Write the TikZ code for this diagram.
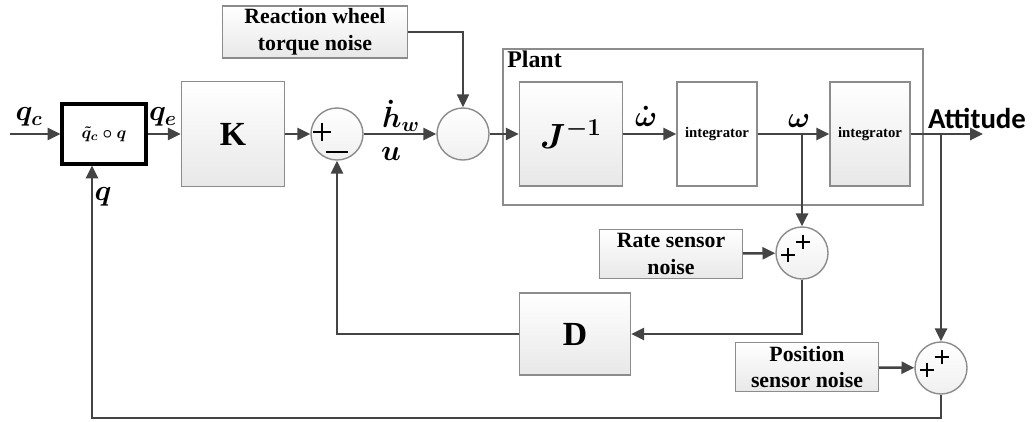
\documentclass[tikz,border=0pt]{standalone}
\usepackage{fontspec}
\setmainfont{Liberation Serif}
\newfontfamily\attfont{Carlito}
\usetikzlibrary{arrows.meta}

\definecolor{lncol}{RGB}{68,68,68}
\definecolor{bdcol}{RGB}{140,140,140}

\begin{document}
\begin{tikzpicture}[
  x=0.025cm, y=-0.025cm,
  blk/.style={rectangle, draw=bdcol, line width=1pt, top color=white, bottom color=black!9,
              inner sep=2pt, align=center, font=\bfseries},
  noise/.style={blk, minimum width=3.575cm, minimum height=1.225cm,
                font=\bfseries\fontsize{15.5}{19}\selectfont},
  sumc/.style={circle, draw=bdcol, line width=1pt, top color=white, bottom color=black!6,
               minimum size=1.3cm, inner sep=0pt},
  arr/.style={-{Triangle[length=3.2mm,width=3mm]}, draw=lncol, line width=1.8pt},
  sgn/.style={draw=black, line width=0.9pt},
  lbl/.style={inner sep=0pt, font=\fontsize{22}{26}\selectfont\boldmath}
]
\useasboundingbox (0,0) rectangle (1032,421);

% forward path
\node[rectangle, draw=black, line width=2.2pt, minimum width=2.1cm, minimum height=1.5cm,
      font=\fontsize{13}{15}\selectfont\boldmath] (err) at (104,134) {$\tilde{q}_c\circ q$};
\node[blk, minimum width=2.575cm, minimum height=2.625cm, font=\bfseries\fontsize{24}{28}\selectfont] (K) at (233,134) {K};
\node[sumc] (s1) at (337,134) {};
\node[sumc] (s2) at (463,134) {};
\node[noise, minimum width=4.625cm] (rw) at (315,32) {Reaction wheel\\torque noise};

% plant
\node[rectangle, draw=bdcol, line width=1pt, minimum width=10.5cm, minimum height=3.9cm] (plant) at (713,127) {};
\node[anchor=north west, inner sep=0pt, font=\bfseries\fontsize{17}{20}\selectfont] (plbl) at (507,51) {Plant};
\node[blk, minimum width=2.575cm, minimum height=2.6cm, font=\fontsize{24}{28}\selectfont\boldmath] (Jinv) at (571,134) {$J^{-1}$};
\node[blk, top color=white, bottom color=white, minimum width=2cm, minimum height=2.6cm,
      font=\bfseries\fontsize{10.5}{12}\selectfont] (int1) at (717,134) {integrator};
\node[blk, minimum width=2cm, minimum height=2.6cm, font=\bfseries\fontsize{10.5}{12}\selectfont] (int2) at (870,134) {integrator};
\coordinate (att) at (983,134);

% sensors and feedback
\node[sumc] (s3) at (802,253) {};
\node[noise] (rate) at (671,254) {Rate sensor\\noise};
\node[blk, minimum width=2.775cm, minimum height=2.05cm, font=\bfseries\fontsize{24}{28}\selectfont] (D) at (575,334) {D};
\node[sumc] (s4) at (941,368) {};
\node[noise] (pos) at (807,367) {Position\\sensor noise};
\coordinate (qin) at (10,134);
\coordinate (fb) at (941,418);

% labels
\node[lbl] (lqc) at (29,117) {$q_c$};
\node[lbl] (lqe) at (163,117) {$q_e$};
\node[lbl] (lq) at (103,197) {$q$};
\node[lbl] (lhw) at (401,116) {$\dot{h}_w$};
\node[lbl] (lu) at (391,154) {$u$};
\node[lbl] (lwd) at (646,116) {$\dot{\omega}$};
\node[lbl] (lw) at (799,121) {$\omega$};
\node[font=\attfont\bfseries\fontsize{20.5}{24}\selectfont, inner sep=0pt] (latt) at (977,118) {Attitude};

% signs in the summing junctions
\draw[sgn] ([shift={(-24,-2)}]s1.center) -- ++(18,0);
\draw[sgn] ([shift={(-15,-11)}]s1.center) -- ++(0,18);
\draw[sgn] ([shift={(-11,18)}]s1.center) -- ++(22,0);
\draw[sgn] ([shift={(-21,2)}]s3.center) -- ++(14,0) ([shift={(-14,-5)}]s3.center) -- ++(0,14);
\draw[sgn] ([shift={(-6,-11)}]s3.center) -- ++(14,0) ([shift={(1,-18)}]s3.center) -- ++(0,14);
\draw[sgn] ([shift={(-21,2)}]s4.center) -- ++(14,0) ([shift={(-14,-5)}]s4.center) -- ++(0,14);
\draw[sgn] ([shift={(-6,-11)}]s4.center) -- ++(14,0) ([shift={(1,-18)}]s4.center) -- ++(0,14);

% connectors
\draw[arr] (qin) -- (err.west);
\draw[arr] (err) -- (K);
\draw[arr] (K) -- (s1);
\draw[arr] (s1) -- (s2);
\draw[arr, line width=1pt] (rw.east) -| (s2.north);
\draw[arr] (s2) -- (Jinv);
\draw[arr] (Jinv) -- (int1);
\draw[arr] (int1) -- (int2);
\draw[arr] (int2) -- (att);
\draw[arr] (s3 |- int1.east) -- (s3.north);
\draw[arr] (rate) -- (s3);
\draw[arr] (s3.south) |- (D.east);
\draw[arr] (D.west) -| (s1.south);
\draw[arr] (s4 |- int2.east) -- (s4.north);
\draw[arr] (pos) -- (s4);
\draw[arr] (s4.south) -- (fb) -| ([xshift=-0.3cm]err.south);
\end{tikzpicture}
\end{document}
